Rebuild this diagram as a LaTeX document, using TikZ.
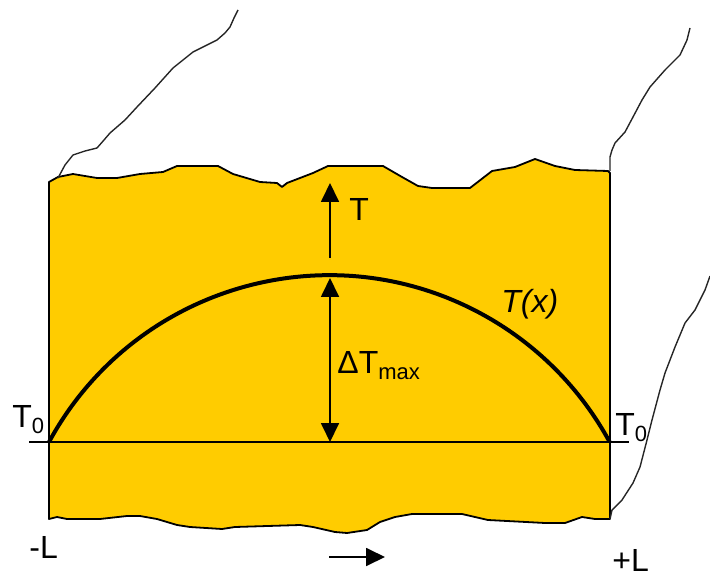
\documentclass[tikz,border=0pt]{standalone}
\usepackage{fontspec}
\setmainfont{Liberation Sans}
\usepackage{tikz}
\usetikzlibrary{positioning,arrows.meta}
\definecolor{slab}{RGB}{255,204,0}
\newcommand{\sub}[1]{\raisebox{-3pt}{\fontsize{11}{13}\selectfont #1}}

\begin{document}
\begin{tikzpicture}[x=0.5pt,y=-0.5pt,font=\fontsize{16}{19}\selectfont,
 >={Triangle[length=9.5pt,width=9pt]},
 lbl/.style={inner sep=0pt,anchor=base west},
 arr/.style={line width=0.9pt},
 rim/.style={draw=black!85,line width=0.7pt,line join=round}]
 \useasboundingbox (0,0) rectangle (710,576);
 % slab
 \filldraw[fill=slab,draw=black,line width=0.9pt,line join=round]
  (49,182) -- (58,177) -- (73,174) -- (97,178) -- (117,178) -- (140,174) -- (163,172) -- (177,166)
  -- (218,166) -- (233,174) -- (260,182) -- (277,183) -- (282,187) -- (287,183) -- (313,173) -- (328,166)
  -- (383,166) -- (402,177) -- (418,186) -- (432,188) -- (470,188) -- (492,171) -- (515,167) -- (535,159)
  -- (555,166) -- (575,170) -- (608,171) -- (610,173) -- (610,519)
  -- (595,519) -- (582,517) -- (565,523) -- (545,523) -- (488,520) -- (462,514) -- (412,514) -- (395,517)
  -- (380,522) -- (367,530) -- (347,533) -- (335,532) -- (313,527) -- (300,525) -- (235,527) -- (222,529)
  -- (190,527) -- (177,525) -- (157,519) -- (140,516) -- (127,516) -- (100,519) -- (67,519) -- (57,517)
  -- (49,519) -- cycle;
 % broken edges
 \draw[rim] (58,178) -- (65,165) -- (73,155) -- (85,151) -- (97,148) -- (104,140) -- (110,133) -- (125,120)
  -- (137,107) -- (155,88) -- (173,68) -- (193,52) -- (217,40) -- (225,33) -- (230,27) -- (234,18) -- (238,10);
 \draw[rim] (610,171) -- (610,157) -- (612,150) -- (615,143) -- (625,132) -- (633,117) -- (642,100)
  -- (650,87) -- (665,70) -- (680,55) -- (687,40) -- (690,28);
 \draw[rim] (610,519) -- (612,510) -- (622,500) -- (633,483) -- (640,467) -- (647,440) -- (652,420)
  -- (660,390) -- (665,373) -- (675,347) -- (685,323) -- (695,310) -- (705,290) -- (710,276);
 % profile
 \coordinate (lend) at (49,442);
 \coordinate (rend) at (610,442);
 \coordinate (base0) at (29,442);
 \coordinate (base1) at (629,442);
 \draw[line width=0.75pt] (base0) -- (base1);
 \draw[line width=2pt] (lend) arc[start angle=208.5,end angle=331.5,radius=319];
 % arrows
 \coordinate (ttail) at (330,258);
 \coordinate (ttip) at (330,183);
 \coordinate (tmid) at (330,209);
 \coordinate (dtop) at (330,278);
 \coordinate (dbot) at (330,442);
 \coordinate (xtail) at (329,557);
 \coordinate (xtip) at (385,557);
 \draw[arr,->] (ttail) -- (ttip);
 \draw[arr,<->] (dtop) -- (dbot);
 \draw[arr,->] (xtail) -- (xtip);
 % labels
 \node[inner sep=0pt,right=9.5pt of tmid] (tlab) {T};
 \node[lbl] (dlab) at (337,373) {ΔT\sub{max}};
 \node[lbl] (txlab) at (501,313) {\itshape T(x)};
 \node[lbl] (t0l) at (12,427) {T\sub{0}};
 \node[lbl] (t0r) at (615,435) {T\sub{0}};
 \node[lbl] (lneg) at (29,558) {-L};
 \node[lbl] (lpos) at (612,571) {+L};
\end{tikzpicture}
\end{document}
